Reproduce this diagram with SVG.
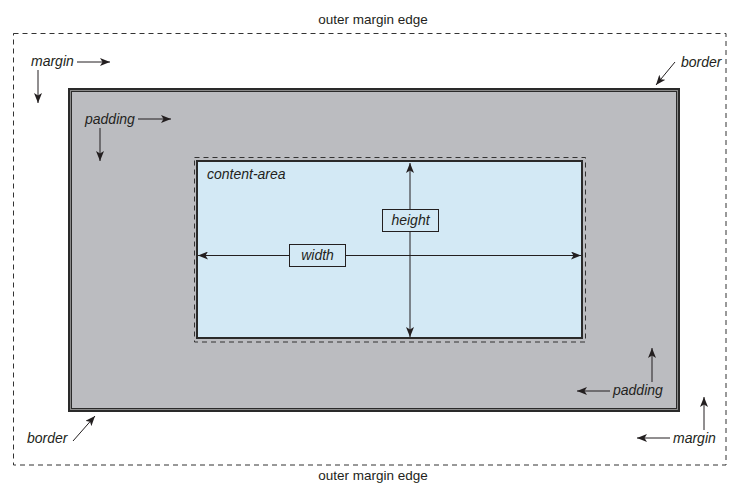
<svg xmlns="http://www.w3.org/2000/svg" width="731" height="484" viewBox="0 0 731 484">
<defs>
<marker id="ah" viewBox="0 0 10 8" refX="10" refY="4" markerWidth="10" markerHeight="8" markerUnits="userSpaceOnUse" orient="auto-start-reverse">
<path d="M0,0 L10,4 L0,8 L2.5,4 z" fill="#231f20"/>
</marker>
</defs>
<style>
text{font-family:"Liberation Sans",Arial,sans-serif;font-size:14px;fill:#231f20}
.it{font-style:italic}
.arr{stroke:#231f20;stroke-width:1;fill:none;marker-end:url(#ah)}
.dash{fill:none;stroke:#333;stroke-width:1;stroke-dasharray:5 4}
</style>
<rect width="731" height="484" fill="#fff"/>
<g id="outer-margin">
<rect class="dash" x="13.5" y="33.5" width="712.5" height="431.5"/>
<text x="373" y="24" text-anchor="middle" style="font-size:13.5px">outer margin edge</text>
<text x="373" y="480" text-anchor="middle" style="font-size:13.5px">outer margin edge</text>
</g>
<g id="border-box">
<rect x="68" y="88" width="612" height="324" fill="#2a2a2a"/>
<rect x="70.5" y="90.5" width="607" height="319" fill="none" stroke="#8a8a8a" stroke-width="1"/>
<rect x="71.5" y="91.5" width="605" height="317" fill="#bbbcc0" stroke="#2a2a2a" stroke-width="1"/>
</g>
<g id="content-area">
<rect class="dash" x="194.5" y="157.5" width="391" height="184.5" stroke="#444"/>
<rect x="197" y="161" width="385" height="177" fill="#d3e9f5" stroke="#2a2a2a" stroke-width="2"/>
<text class="it" x="207" y="179">content-area</text>
</g>
<g id="connectors">
<line x1="410" y1="163" x2="410" y2="337" stroke="#231f20" stroke-width="1" marker-start="url(#ah)" marker-end="url(#ah)"/>
<line x1="198" y1="255.5" x2="581" y2="255.5" stroke="#231f20" stroke-width="1" marker-start="url(#ah)" marker-end="url(#ah)"/>
<line class="arr" x1="77" y1="62" x2="110" y2="62"/>
<line class="arr" x1="38" y1="70" x2="38" y2="103"/>
<line class="arr" x1="138" y1="119" x2="171" y2="119"/>
<line class="arr" x1="100" y1="128" x2="100" y2="161"/>
<line class="arr" x1="675" y1="62" x2="656" y2="85"/>
<line class="arr" x1="73" y1="441" x2="95" y2="416"/>
<line class="arr" x1="610" y1="391" x2="577" y2="391"/>
<line class="arr" x1="652" y1="382" x2="652" y2="348"/>
<line class="arr" x1="670" y1="438" x2="637" y2="438"/>
<line class="arr" x1="704" y1="430" x2="704" y2="397"/>
</g>
<g id="height-label">
<rect x="382.5" y="209.5" width="56" height="22" fill="#d3e9f5" stroke="#231f20" stroke-width="1"/>
<text class="it" x="410.5" y="225" text-anchor="middle">height</text>
</g>
<g id="width-label">
<rect x="289.5" y="244.5" width="56" height="22" fill="#d3e9f5" stroke="#231f20" stroke-width="1"/>
<text class="it" x="317.5" y="260" text-anchor="middle">width</text>
</g>
<g id="margin-tl"><text class="it" x="31" y="66">margin</text></g>
<g id="padding-tl"><text class="it" x="85" y="124">padding</text></g>
<g id="border-tr"><text class="it" x="681" y="67">border</text></g>
<g id="border-bl"><text class="it" x="27" y="443">border</text></g>
<g id="padding-br"><text class="it" x="613" y="395">padding</text></g>
<g id="margin-br"><text class="it" x="673" y="443">margin</text></g>
</svg>
